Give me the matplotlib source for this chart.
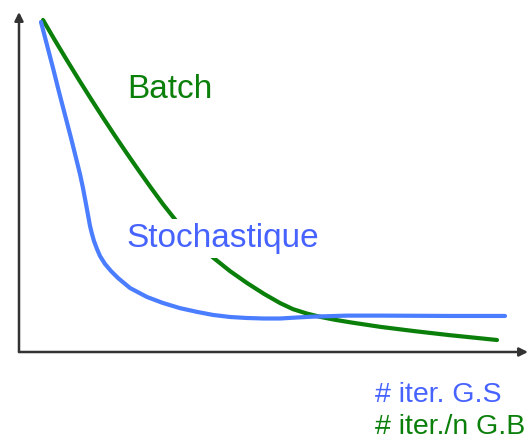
import matplotlib
matplotlib.use("Agg")
import matplotlib.pyplot as plt

# Loss vs. iterations (arbitrary units, 0-100 on both axes)
stoch_x = [4.32, 5.50, 6.68, 7.86, 9.04, 10.22, 11.20, 11.98, 12.57, 13.16, 13.56,
           13.95, 14.34, 14.73, 15.32, 15.91, 16.90, 18.07, 19.45, 21.81, 25.15,
           28.29, 31.63, 34.97, 38.11, 41.45, 44.79, 48.13, 51.28, 54.62, 57.76,
           64.44, 70.92, 84.68, 95.48]
stoch_y = [97.06, 90.29, 83.53, 76.47, 69.71, 62.94, 57.06, 52.35, 48.24, 43.53, 40.29,
           37.06, 34.71, 32.65, 30.29, 28.24, 25.88, 23.82, 21.76, 18.82, 16.18,
           14.41, 12.9, 11.8, 10.9, 10.3, 10.0, 9.85, 9.85, 10.15, 10.4,
           10.7, 10.7, 10.6, 10.6]

batch_x = [4.72, 7.07, 9.43, 11.79, 14.15, 16.50, 18.86, 21.22, 23.58, 25.93,
           28.29, 31.24, 34.58, 38.11, 41.45, 44.79, 48.13, 51.28, 53.83, 56.58,
           59.14, 62.08, 65.03, 70.92, 77.80, 84.68, 93.91]
batch_y = [97.65, 91.64, 85.77, 80.02, 74.41, 68.94, 63.57, 58.35, 53.26, 48.30,
           43.47, 37.9, 32.6, 27.8, 23.8, 20.3, 17.1, 14.4, 12.6, 11.3,
           10.35, 9.47, 8.74, 7.41, 6.12, 4.94, 3.53]

BLUE = "#4a7dff"
GREEN = "#0a7f0a"
TEXT_BLUE = "#4763ff"

plt.rcParams["font.family"] = ["Liberation Sans", "DejaVu Sans"]

fig = plt.figure(figsize=(5.31, 4.40), dpi=100)
W, H = 531, 440
ax = fig.add_axes([19 / W, (H - 352) / H, (528 - 19) / W, (352 - 12) / H])
ax.set_xlim(0, 100)
ax.set_ylim(0, 100)
ax.axis("off")

ax.plot(batch_x, batch_y, color=GREEN, lw=3.0, solid_capstyle="round",
        solid_joinstyle="round", zorder=2)
ax.plot(stoch_x, stoch_y, color=BLUE, lw=3.0, solid_capstyle="round",
        solid_joinstyle="round", zorder=3)

# axes drawn as arrows
arrow = dict(arrowstyle="-|>,head_length=0.5,head_width=0.25", color="#333333",
             lw=1.8, shrinkA=0, shrinkB=0)
ax.annotate("", xy=(0, 1), xytext=(0, 0), xycoords="axes fraction",
            textcoords="axes fraction", arrowprops=arrow, annotation_clip=False)
ax.annotate("", xy=(1, 0), xytext=(0, 0), xycoords="axes fraction",
            textcoords="axes fraction", arrowprops=arrow, annotation_clip=False)

ax.text(21.2, 74.7, "Batch", color=GREEN, fontsize=24, va="baseline", zorder=5)
ax.text(21.2, 30.9, "Stochastique", color=TEXT_BLUE, fontsize=24, va="baseline",
        zorder=5, bbox=dict(facecolor="white", edgecolor="none", pad=3))

ax.text(69.9, -14.7, "# iter. G.S", color=TEXT_BLUE, fontsize=20.5,
        va="baseline", clip_on=False)
ax.text(69.9, -24.2, "# iter./n G.B", color=GREEN, fontsize=20.5,
        va="baseline", clip_on=False)

fig.savefig("out.png", dpi=100)
